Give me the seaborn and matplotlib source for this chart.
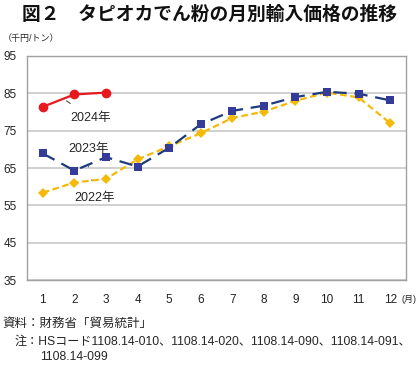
import pandas as pd
import matplotlib
matplotlib.use('Agg')
import matplotlib.pyplot as plt
import seaborn as sns

# --- DATA ---
months = list(range(1, 13))
price_2022 = [58.4, 61.1, 62.1, 67.3, 70.8, 74.3, 78.4, 80.1, 83.0, 85.2, 83.9, 77.0]
price_2023 = [68.9, 64.3, 67.9, 65.4, 70.4, 76.7, 80.3, 81.7, 84.0, 85.4, 84.9, 83.1]
price_2024 = [81.4, 84.7, 85.2]
y_ticks = [35, 45, 55, 65, 75, 85, 95]

sns.set_theme(style="white")
plt.rcParams['font.family'] = ['Liberation Sans', 'Noto Sans CJK JP']

fig = plt.figure(figsize=(4.2, 3.69), dpi=100)
ax = fig.add_axes([27 / 420, 1 - 280 / 369, 379 / 420, 224 / 369])

df22 = pd.DataFrame({"month": months, "price": price_2022})
df23 = pd.DataFrame({"month": months, "price": price_2023})
df24 = pd.DataFrame({"month": months[:3], "price": price_2024})

sns.lineplot(data=df22, x="month", y="price", ax=ax, color="#f5b90a",
             linewidth=1.6, marker="D", markersize=5.5, markeredgewidth=0,
             linestyle=(0, (3, 1.6)), zorder=3)
sns.lineplot(data=df23, x="month", y="price", ax=ax, color="#1d3a7c",
             linewidth=1.6, marker="s", markersize=6, markeredgewidth=0,
             markerfacecolor="#343b99", linestyle=(0, (6, 3.5)), zorder=4)
sns.lineplot(data=df24, x="month", y="price", ax=ax, color="#e8191e",
             linewidth=1.6, marker="o", markersize=7, markeredgewidth=0,
             zorder=5)

ax.set_xlim(0.5, 12.5)
ax.set_ylim(35, 95)
ax.set_yticks(y_ticks)
ax.set_xticks(months)
ax.set_xlabel("")
ax.set_ylabel("")
ax.grid(axis="y", color="#c8c8c8", linewidth=1.2)
for s in ax.spines.values():
    s.set_color("#a0a0a0")
    s.set_linewidth(1.0)
ax.tick_params(axis="both", length=0, labelsize=8.5, colors="#222222")
ax.tick_params(axis="x", pad=10)
for lab in ax.get_yticklabels():
    lab.set_horizontalalignment("left")
ax.tick_params(axis="y", pad=17)

# series labels with leader lines
ax.annotate("2024年", xy=(1.75, 83.0), xytext=(2.5, 78.5), fontsize=9,
            ha="center", va="center",
            arrowprops=dict(arrowstyle="-", color="#555555", lw=0.8, shrinkA=6, shrinkB=0))
ax.annotate("2023年", xy=(2.45, 65.3), xytext=(2.45, 70.2), fontsize=9,
            ha="center", va="center",
            arrowprops=dict(arrowstyle="-", color="#555555", lw=0.8, shrinkA=6, shrinkB=0))
ax.annotate("2022年", xy=(2.55, 61.8), xytext=(2.65, 57.0), fontsize=9,
            ha="center", va="center",
            arrowprops=dict(arrowstyle="-", color="#555555", lw=0.8, shrinkA=6, shrinkB=0))

# titles and notes
fig.text(0.5, 1 - 15 / 369, "図２　タピオカでん粉の月別輸入価格の推移", fontsize=13.5,
         fontweight="bold", ha="center", va="center", color="#111111")
fig.text(3 / 420, 1 - 38 / 369, "（千円/トン）", fontsize=6.5, ha="left", va="center")
fig.text(409 / 420, 1 - 300 / 369, "(月)", fontsize=6.5, ha="center", va="center")
fig.text(2 / 420, 1 - 324 / 369, "資料：財務省「貿易統計」", fontsize=9, ha="left", va="center")
fig.text(15 / 420, 1 - 342 / 369,
         "注：HSコード1108.14-010、1108.14-020、1108.14-090、1108.14-091、",
         fontsize=8.7, ha="left", va="center")
fig.text(40 / 420, 1 - 357 / 369, "1108.14-099", fontsize=8.7, ha="left", va="center")

fig.savefig("out.png", dpi=100)
plt.close(fig)
